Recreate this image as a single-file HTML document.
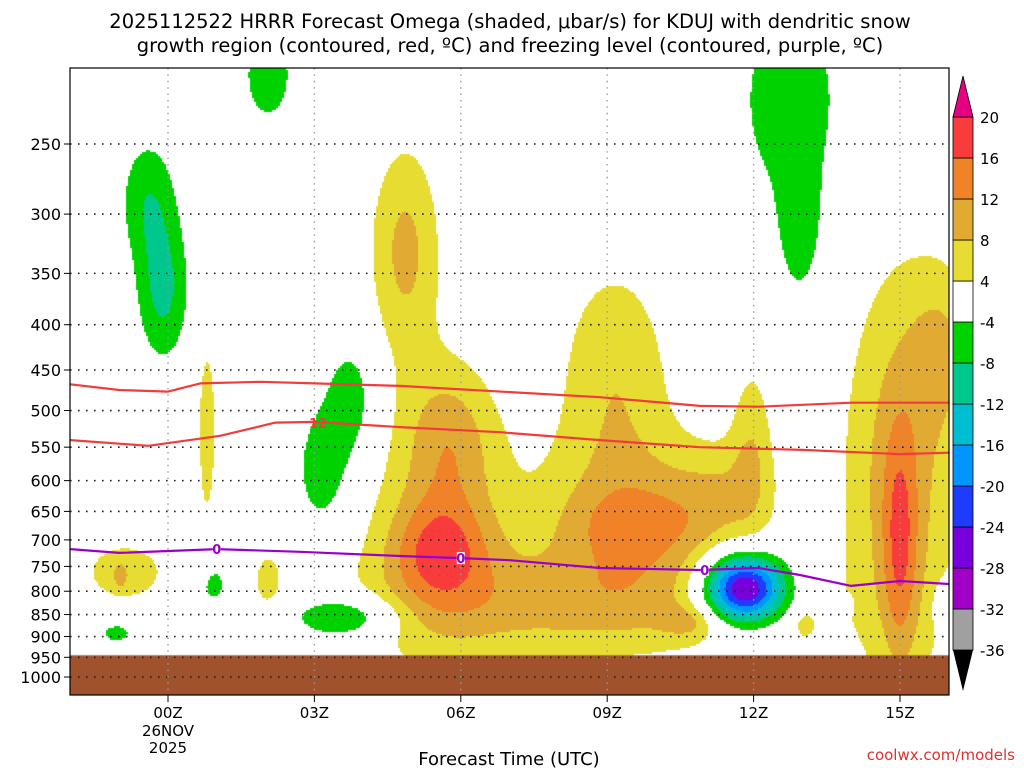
<!DOCTYPE html>
<html><head><meta charset="utf-8">
<style>
body{margin:0;background:#fff;width:1024px;height:768px;overflow:hidden;position:relative;font-family:"DejaVu Sans","Liberation Sans",sans-serif;}
#field{position:absolute;left:70px;top:68px;}
#ov{position:absolute;left:0;top:0;}
</style></head>
<body>
<canvas id="field" width="879" height="627"></canvas>
<svg id="ov" width="1024" height="768"></svg>
<script>
// ---- data ----
const timeTicks=[0,3,6,9,12,15];
const timeLabels=["00Z","03Z","06Z","09Z","12Z","15Z"];
const presTicks=[250,300,350,400,450,500,550,600,650,700,750,800,850,900,950,1000];
const levels=[-36,-32,-28,-24,-20,-16,-12,-8,-4,4,8,12,16,20];
const levelColors=["#a0a0a0","#a000c8","#7800dc","#1e3cff","#0096ff","#00bed2","#00c88c","#00d200","#ffffff","#e6dc32","#e1aa32","#f08228","#f83c3c"];
// omega features: time (h), pressure (hPa), sigma time (h), sigma ln p, amplitude (microbar/s)
const blobT=[4.86,5.57,9.47,8.03,5.57,9.77,5.78,11.41,9.16,11.97,15.0,15.0,15.92,0.8,-0.88,-0.98,2.05,10.7,13.05,
  -0.41,-0.1,2.05,12.75,12.95,3.77,3.16,0.92,3.63,-1.05,11.8,13.95,16.02];
const blobP=[329,665,665,829,719,673,540,615,450,540,599,709,427,526,761,771,777,867,873,
  289,366,209,223,313,487,584,787,856,892,795,829,829];
const blobST=[0.51,1.1,1.3,2.87,0.7,1.2,0.61,0.72,0.82,0.31,0.82,0.25,0.51,0.16,0.61,0.08,0.2,0.41,0.16,
  0.41,0.37,0.37,0.82,0.31,0.4,0.4,0.25,0.8,0.25,0.58,0.06,0.2];
const blobSP=[0.195,0.26,0.17,0.1,0.09,0.073,0.14,0.091,0.208,0.156,0.39,0.208,0.156,0.208,0.057,0.02,0.052,0.031,0.026,
  0.117,0.13,0.091,0.208,0.13,0.12,0.12,0.047,0.042,0.021,0.062,0.013,0.039];
const blobAmp=[9,7,8.5,8,10,5,6.5,5,7,6,10,9,6,6,7,5,6,5,5,
  -7,-9,-7,-6.5,-6,-6.5,-6.5,-6,-10,-6,-32,-5,-7];
// dendritic growth contours (red) and freezing level (purple)
const redUpperT=[-2,-1,0,0.66,1.9,4.75,8.85,10.9,12.1,14,16];
const redUpperP=[467,474,476,466,464,469,483,494,495,490,490];
const redLowerT=[-2,-0.4,1.07,2.2,3,4.75,6.8,8.85,10.9,13,15,16];
const redLowerP=[540,548,534,516,515,522,529,540,550,554,560,558];
const frzT=[-2,-1,1,2.7,4.75,6,7,8.85,10.9,12.1,12.95,14,15,16];
const frzP=[717,724,717,722,730,734,738,753,757,753,767,789,779,785];
const frzLabelT=[1,6,11];
const groundP=950;

// ---- scales ----
const X0=70,X1=949,Y0=68,Y1=695;
const xs=t=>168+48.8*t;
const ys=p=>144+384.5*Math.log(p/250);
const tInv=x=>(x-168)/48.8;
const pInv=y=>250*Math.exp((y-144)/384.5);
const cbY=v=>{const i=levels.indexOf(v);return 117+(13-i)*41;};

// ---- field ----
const ctx=document.getElementById('field').getContext('2d');
function colorFor(v){
  if(v>=-4&&v<4) return null;
  let idx=0;
  for(let i=0;i<levels.length;i++){ if(v>=levels[i]) idx=i; }
  if(v<levels[0]) return "#000";
  if(v>=20) return "#e60082";
  return levelColors[idx];
}
const step=2;
for(let px=0;px<879;px+=step){
  const t=tInv(X0+px+step/2);
  for(let py=0;py<627;py+=step){
    const p=pInv(Y0+py+step/2);
    const lp=Math.log(p);
    let v=0;
    for(let i=0;i<blobT.length;i++){
      const dt=(t-blobT[i])/blobST[i];
      const dp=(lp-Math.log(blobP[i]))/blobSP[i];
      v+=blobAmp[i]*Math.exp(-0.5*(dt*dt+dp*dp));
    }
    const c=colorFor(v);
    if(c){ctx.fillStyle=c;ctx.fillRect(px,py,step,step);}
  }
}
// ground
ctx.fillStyle="#a0522d";
ctx.fillRect(0,ys(groundP)-Y0-2,879,627);

// ---- svg ----
const NS="http://www.w3.org/2000/svg";
const svg=document.getElementById('ov');
function mk(tag,attrs,parent){const e=document.createElementNS(NS,tag);for(const k in attrs)e.setAttribute(k,attrs[k]);(parent||svg).appendChild(e);return e;}
// grid
presTicks.forEach(p=>{
  const l=mk('line',{x1:X0,x2:X1,y1:ys(p),y2:ys(p),stroke:'#222','stroke-width':1.6,'stroke-dasharray':'1.6 6.4'});
  
  
  const tk=mk('line',{x1:X0-6,x2:X0,y1:ys(p),y2:ys(p),stroke:'#000'});
  
  
  const tx=mk('text',{x:61,y:ys(p)+6,'text-anchor':'end','font-size':16,fill:'#000'});
  tx.textContent=p;
  
  
});
timeTicks.forEach((t,i)=>{
  const l=mk('line',{x1:xs(t),x2:xs(t),y1:Y0,y2:Y1,stroke:'#999','stroke-width':1.4,'stroke-dasharray':'1.4 5'});
  
  
  const tk=mk('line',{x1:xs(t),x2:xs(t),y1:Y1,y2:Y1+7,stroke:'#000'});
  
  
  const tx=mk('text',{x:xs(t),y:718,'text-anchor':'middle','font-size':15,fill:'#000'});
  tx.textContent=timeLabels[i];
  
  
});
function line(ts,ps,color,name){
  const d=ts.map((t,i)=>(i?'L':'M')+xs(t).toFixed(1)+' '+ys(ps[i]).toFixed(1)).join(' ');
  const e=mk('path',{d:d,fill:'none',stroke:color,'stroke-width':2.2,'stroke-linejoin':'round'});
  
  
}
line(redUpperT,redUpperP,'#f03c3c','dendritic-contour-upper');
line(redLowerT,redLowerP,'#f03c3c','dendritic-contour-lower');
line(frzT,frzP,'#9a00cc','freezing-level-line');
const rl=mk('text',{x:318,y:428,'text-anchor':'middle','font-size':13,fill:'#f03c3c','font-weight':'bold'});
rl.textContent='12';


function interp(ts,ps,t){for(let i=1;i<ts.length;i++){if(t<=ts[i]){const f=(t-ts[i-1])/(ts[i]-ts[i-1]);return ps[i-1]+f*(ps[i]-ps[i-1]);}}return ps[ps.length-1];}
frzLabelT.forEach(t=>{
  const y=ys(interp(frzT,frzP,t));
  const r=mk('rect',{x:xs(t)-4,y:y-6,width:8,height:12,fill:'#fff'});
  
  
  const tx=mk('text',{x:xs(t),y:y+5,'text-anchor':'middle','font-size':13,fill:'#9a00cc','font-weight':'bold'});
  tx.textContent='0';
  
  
});
// frame
const fr=mk('rect',{x:X0,y:Y0,width:X1-X0,height:Y1-Y0,fill:'none',stroke:'#000','stroke-width':1.2});


// colorbar
for(let i=0;i<levels.length-1;i++){
  const r=mk('rect',{x:953,y:cbY(levels[i+1]),width:20,height:cbY(levels[i])-cbY(levels[i+1]),fill:levelColors[i],stroke:'#000','stroke-width':0.8});
  
  
}
levels.forEach(v=>{
  const tx=mk('text',{x:980,y:cbY(v)+6,'font-size':15,fill:'#000'});
  tx.textContent=v;
  
  
});
const tt=mk('polygon',{points:`953,${cbY(20)} 973,${cbY(20)} 963,76`,fill:'#e60082',stroke:'#000','stroke-width':0.8});


const tb=mk('polygon',{points:`953,${cbY(-36)} 973,${cbY(-36)} 963,691`,fill:'#000'});


// texts
function txt(x,y,s,size,anchor,name,color){
  const e=mk('text',{x:x,y:y,'font-size':size,'text-anchor':anchor,fill:color||'#000'});
  e.textContent=s;
  
  
}
txt(510,28,'2025112522 HRRR Forecast Omega (shaded, \u03bcbar/s) for KDUJ with dendritic snow',19.5,'middle','chart-title-line1');
txt(510,52,'growth region (contoured, red, \u00baC) and freezing level (contoured, purple, \u00baC)',19.5,'middle','chart-title-line2');
txt(168,736,'26NOV',15,'middle','date-label');
txt(168,753,'2025',15,'middle','year-label');
txt(509,765,'Forecast Time (UTC)',18,'middle','x-axis-title');
txt(1015,760,'coolwx.com/models',15,'end','source-credit','#e03030');
</script>
</body></html>
